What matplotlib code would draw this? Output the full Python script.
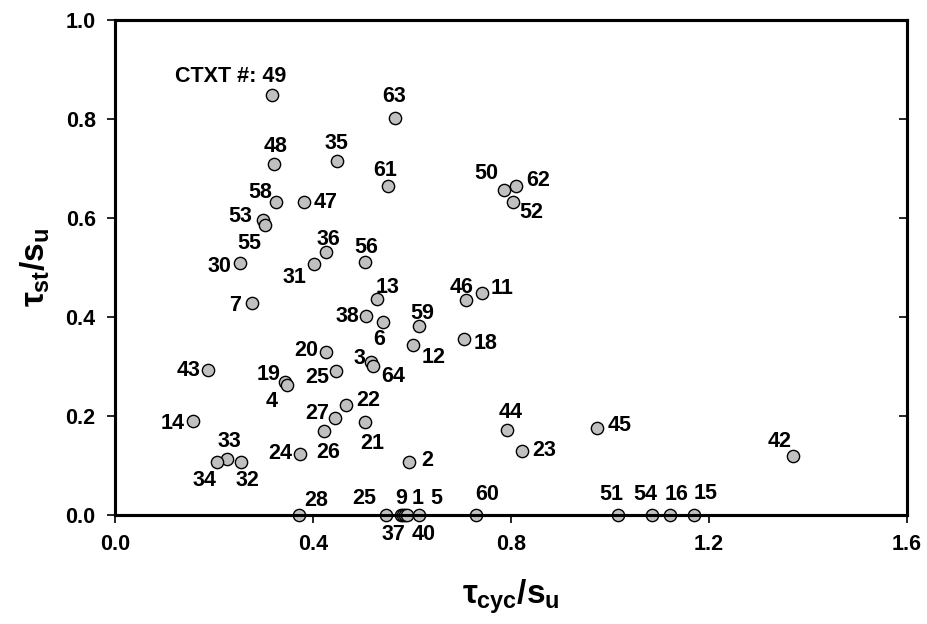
import matplotlib
matplotlib.use('Agg')
import matplotlib.pyplot as plt

# test numbers (CTXT #) and their stress ratios
ids = ['49', '63', '48', '35', '61', '58', '47', '53', '55', '36', '56', '30', '31',
       '7', '13', '38', '6', '59', '12', '18', '20', '3', '64', '43', '25', '19', '4',
       '22', '27', '21', '14', '26', '24', '33', '34', '32', '2',
       '46', '11', '44', '23', '45', '42', '50', '62', '52',
       '28', '25', '37', '9', '1', '40', '5', '60', '51', '54', '16', '15']
tau_cyc = [0.317, 0.565, 0.322, 0.448, 0.551, 0.325, 0.382, 0.299, 0.304, 0.427, 0.505, 0.252, 0.402,
           0.277, 0.529, 0.508, 0.541, 0.614, 0.602, 0.705, 0.427, 0.518, 0.521, 0.187, 0.446, 0.343, 0.348,
           0.466, 0.444, 0.506, 0.158, 0.423, 0.374, 0.227, 0.206, 0.255, 0.595,
           0.709, 0.741, 0.793, 0.823, 0.975, 1.371, 0.786, 0.810, 0.804,
           0.371, 0.547, 0.578, 0.582, 0.586, 0.590, 0.614, 0.730, 1.017, 1.086, 1.122, 1.171]
tau_st = [0.848, 0.802, 0.708, 0.715, 0.664, 0.633, 0.632, 0.595, 0.586, 0.531, 0.510, 0.508, 0.507,
          0.429, 0.436, 0.402, 0.389, 0.382, 0.344, 0.355, 0.330, 0.308, 0.300, 0.293, 0.291, 0.269, 0.263,
          0.221, 0.196, 0.188, 0.189, 0.169, 0.123, 0.113, 0.106, 0.106, 0.106,
          0.434, 0.449, 0.171, 0.128, 0.176, 0.119, 0.657, 0.664, 0.632,
          0.0, 0.0, 0.0, 0.0, 0.0, 0.0, 0.0, 0.0, 0.0, 0.0, 0.0, 0.0]

# where each label sits relative to its marker (pixels, +y is up)
label_offsets = [(14, 19), (0, 21), (1, 18), (0, 17), (-2, 16), (-16, 9), (22, 0), (-23, 4), (-16, -19),
                 (2, 13), (1, 15), (-20, -3), (-19, -14),
                 (-17, -3), (11, 12), (-19, -1), (-4, -17), (3, 12), (21, -13), (22, -4), (-20, 1),
                 (-12, 4), (20, -10), (-19, -1), (-18, -7), (-16, 7), (-16, -17),
                 (23, 5), (-17, 4), (7, -22), (-21, -2), (4, -21), (-20, 0), (2, 17), (-13, -18),
                 (6, -18), (18, 2),
                 (-4, 13), (20, 4), (3, 18), (22, 1), (22, 2), (-14, 14), (-18, 16), (22, 6), (18, -10),
                 (18, 14), (-21, 16), (-8, -20), (-2, 16), (13, 16), (17, -20), (17, 16), (11, 20),
                 (-7, 20), (-7, 20), (6, 20), (11, 21)]

plt.rcParams['font.family'] = ['Liberation Sans', 'DejaVu Sans']
plt.rcParams['font.weight'] = 'bold'
plt.rcParams['mathtext.fontset'] = 'custom'
plt.rcParams['mathtext.rm'] = 'Liberation Sans:bold'
plt.rcParams['mathtext.it'] = 'Liberation Sans:bold'
plt.rcParams['mathtext.bf'] = 'Liberation Sans:bold'

fig = plt.figure(figsize=(9.28, 6.24), dpi=100)
ax = fig.add_axes([0.124, 0.175, 0.853, 0.793])

ax.scatter(tau_cyc, tau_st, s=78, facecolor='#c0c0c0', edgecolor='black',
           linewidth=1.0, zorder=3, clip_on=False)

for i, (lab, xv, yv) in enumerate(zip(ids, tau_cyc, tau_st)):
    dx, dy = label_offsets[i]
    if i == 0:
        ax.annotate('CTXT #: ' + lab, (xv, yv), xytext=(dx, dy), textcoords='offset pixels',
                    ha='right', va='center', fontsize=15.5, fontweight='bold')
    else:
        ax.annotate(lab, (xv, yv), xytext=(dx, dy), textcoords='offset pixels',
                    ha='center', va='center', fontsize=15.5, fontweight='bold')

ax.set_xlim(0, 1.6)
ax.set_ylim(0, 1.0)
ax.set_xticks([0.0, 0.4, 0.8, 1.2, 1.6])
ax.set_yticks([0.0, 0.2, 0.4, 0.6, 0.8, 1.0])
ax.xaxis.set_major_formatter(matplotlib.ticker.FormatStrFormatter('%.1f'))
ax.yaxis.set_major_formatter(matplotlib.ticker.FormatStrFormatter('%.1f'))
ax.tick_params(axis='both', direction='out', length=6, width=1.2, labelsize=15.5, pad=8)
for lbl in ax.get_xticklabels() + ax.get_yticklabels():
    lbl.set_fontweight('bold')

# inward ticks on the right-hand frame
ax2 = ax.twinx()
ax2.set_ylim(0, 1.0)
ax2.set_yticks([0.0, 0.2, 0.4, 0.6, 0.8, 1.0])
ax2.tick_params(axis='y', direction='in', length=6, width=1.2, labelright=False)

for a in (ax, ax2):
    for sp in a.spines.values():
        sp.set_linewidth(2.2)

ax.set_xlabel(r'$\tau_{cyc}/s_u$', fontsize=24, labelpad=16)
ax.set_ylabel(r'$\tau_{st}/s_u$', fontsize=24, labelpad=10)

fig.savefig('out.png', dpi=100)
